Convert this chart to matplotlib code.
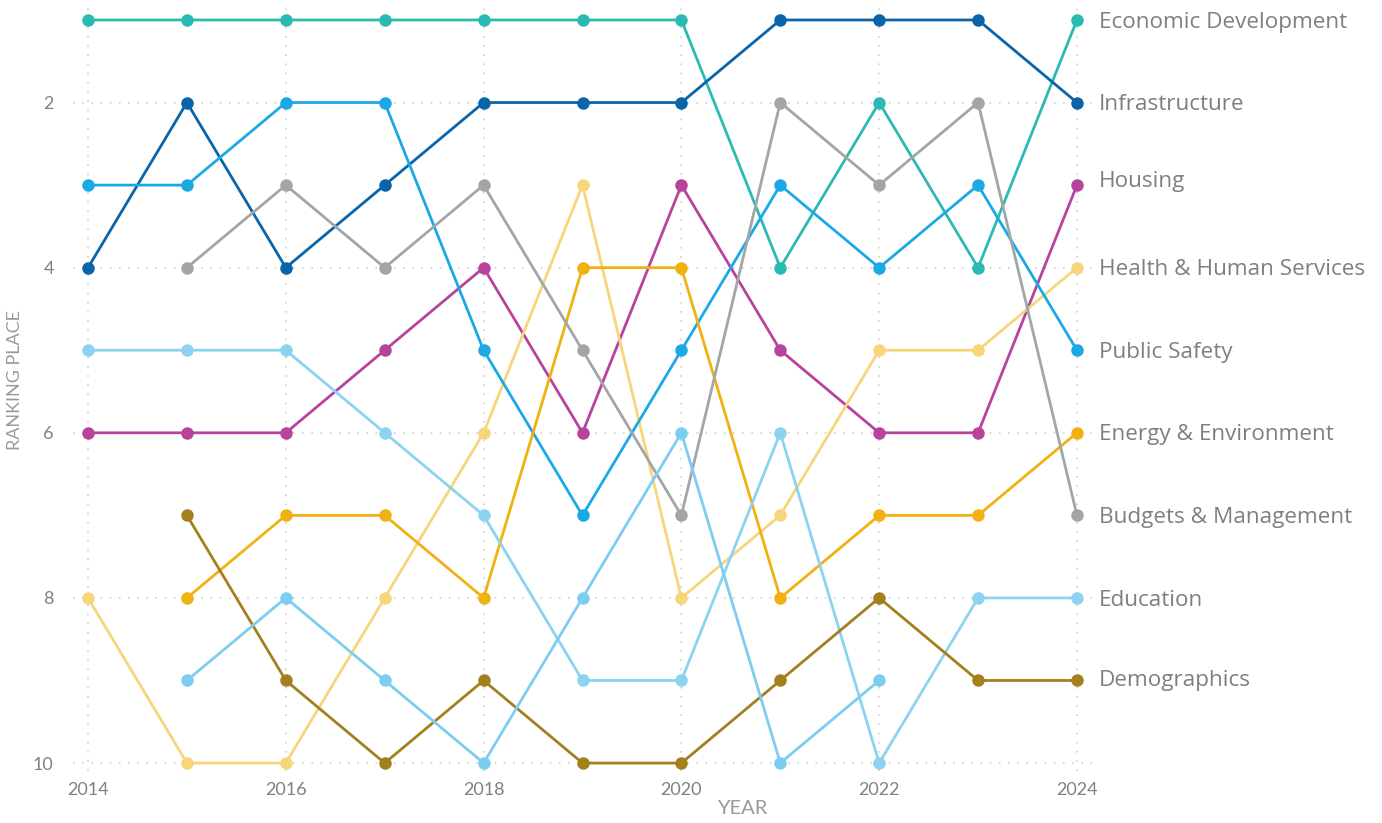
import numpy as np
import matplotlib
matplotlib.use("Agg")
import matplotlib.pyplot as plt

nan = np.nan
years = list(range(2014, 2025))

categories = [
    "Economic Development", "Infrastructure", "Housing", "Health & Human Services",
    "Public Safety", "Energy & Environment", "Budgets & Management", "Education",
    "Demographics", "Other",
]

economic_development = [1, 1, 1, 1, 1, 1, 1, 4, 2, 4, 1]
infrastructure = [4, 2, 4, 3, 2, 2, 2, 1, 1, 1, 2]
housing = [6, 6, 6, 5, 4, 6, 3, 5, 6, 6, 3]
health_human_services = [8, 10, 10, 8, 6, 3, 8, 7, 5, 5, 4]
public_safety = [3, 3, 2, 2, 5, 7, 5, 3, 4, 3, 5]
energy_environment = [nan, 8, 7, 7, 8, 4, 4, 8, 7, 7, 6]
budgets_management = [nan, 4, 3, 4, 3, 5, 7, 2, 3, 2, 7]
education = [5, 5, 5, 6, 7, 9, 9, 6, 10, 8, 8]
demographics = [nan, 7, 9, 10, 9, 10, 10, 9, 8, 9, 9]
other = [nan, 9, 8, 9, 10, 8, 6, 10, 9, nan, nan]

series = [economic_development, infrastructure, housing, health_human_services,
          public_safety, energy_environment, budgets_management, education,
          demographics, other]

colors = ["#2bbab2", "#0a64a9", "#b8439c", "#f6d57b", "#1ba9e6",
          "#f0b111", "#a2a6a8", "#8cd3f2", "#a47f1d", "#7dcdf3"]

label_nudge = {"Housing": -0.07, "Demographics": -0.03}

plt.rcParams['font.family'] = ['Lato', 'DejaVu Sans']

fig = plt.figure(figsize=(13.82, 8.23), dpi=100)
ax = fig.add_axes([73.2 / 1382, 1 - 771.3 / 823, (1091.8 - 73.2) / 1382, (771.3 - 7.6) / 823])

grid_kw = dict(color="#cfcfcf", linewidth=1.2, linestyle=(0, (1, 4.5)), zorder=0)
for yv in [2, 4, 6, 8, 10]:
    ax.axhline(yv, **grid_kw)
for xv in [2014, 2016, 2018, 2020, 2022, 2024]:
    ax.axvline(xv, **grid_kw)

for name, vals, col in zip(categories, series, colors):
    ax.plot(years, vals, color=col, linewidth=2.0, marker="o", markersize=9,
            markeredgewidth=0, solid_capstyle="round", zorder=3)
    if name != "Other":
        last = vals[-1]
        ax.annotate(name, xy=(years[-1], last + label_nudge.get(name, 0)),
                    xytext=(16, -1.5), textcoords="offset points", va="center", ha="left",
                    fontsize=16.2, color="#7f7f7f", annotation_clip=False,
                    family=["Open Sans", "DejaVu Sans"])

ax.set_xlim(2013.85, 2024.15)
ax.set_ylim(10.1, 0.85)
ax.set_xticks([2014, 2016, 2018, 2020, 2022, 2024])
ax.set_yticks([2, 4, 6, 8, 10])
ax.tick_params(length=0, labelsize=13, labelcolor="#808080", pad=8)
ax.tick_params(axis="y", pad=14)
for s in ax.spines.values():
    s.set_visible(False)

fig.text(15 / 1382, 1 - 380 / 823, "RANKING PLACE", rotation=90, ha="center", va="center",
         fontsize=13, color="#9a9a9a")
fig.text(742 / 1382, 1 - 809 / 823, "YEAR", ha="center", va="center",
         fontsize=14.5, color="#9a9a9a")

fig.savefig("out.png", dpi=100, facecolor="white")
